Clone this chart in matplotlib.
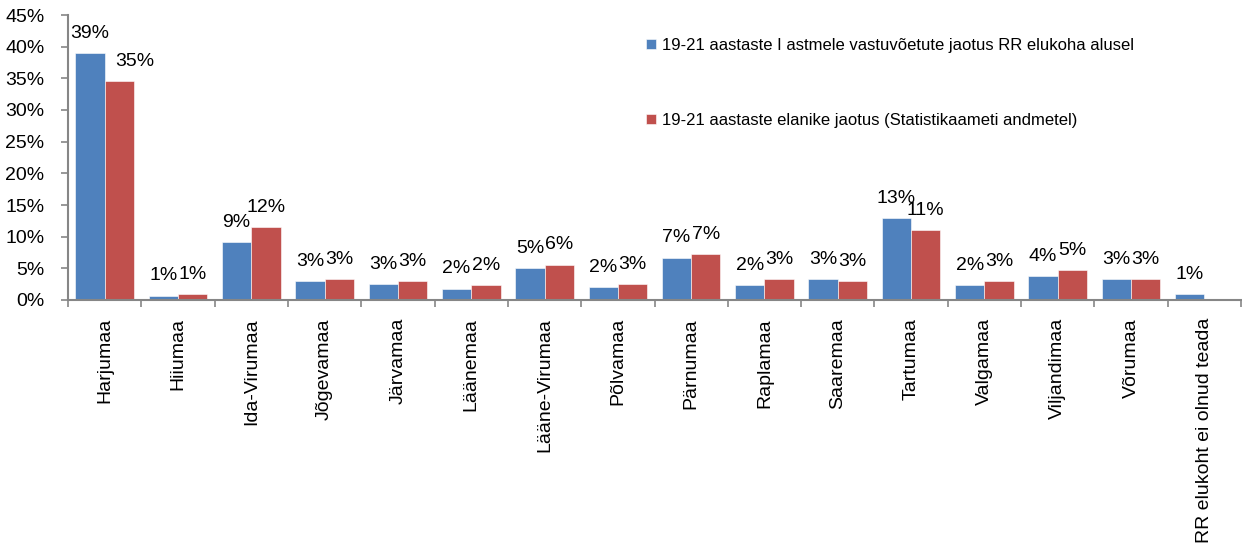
import numpy as np
import matplotlib
matplotlib.use("Agg")
import matplotlib.pyplot as plt
from matplotlib.ticker import FixedLocator, PercentFormatter

plt.rcParams['font.family'] = ['Liberation Sans', 'DejaVu Sans']

# Data (percent)
counties = ["Harjumaa", "Hiiumaa", "Ida-Virumaa", "Jõgevamaa", "Järvamaa",
            "Läänemaa", "Lääne-Virumaa", "Põlvamaa", "Pärnumaa", "Raplamaa",
            "Saaremaa", "Tartumaa", "Valgamaa", "Viljandimaa", "Võrumaa",
            "RR elukoht ei olnud teada"]
admitted = [39.0, 0.7, 9.2, 3.0, 2.55, 1.8, 5.0, 2.1, 6.7, 2.4,
            3.3, 12.9, 2.4, 3.8, 3.3, 1.0]
residents = [34.5, 1.0, 11.5, 3.3, 3.0, 2.4, 5.6, 2.55, 7.3, 3.3,
             3.0, 11.0, 3.0, 4.7, 3.3, np.nan]
series_names = ["19-21 aastaste I astmele vastuvõetute jaotus RR elukoha alusel",
                "19-21 aastaste elanike jaotus (Statistikaameti andmetel)"]
colors = ["#4F81BD", "#C0504D"]

FS = 14
AXIS_GREY = "#868686"

fig = plt.figure(figsize=(12.42, 5.44), dpi=100)
ax = fig.add_axes([68/1242, 1 - 300/544, 1173/1242, 285/544])

x = np.arange(len(counties))
w = 0.4
for i, (vals, col) in enumerate(zip([admitted, residents], colors)):
    pos = x - w/2 + i*w
    ax.bar(pos, vals, width=w, color=col, edgecolor="white", linewidth=0.4,
           label=series_names[i], zorder=2)
    for j, (px, v) in enumerate(zip(pos, vals)):
        if np.isnan(v):
            continue
        # the first red label was nudged right in the original so it clears 39%
        dx = 11 if (i == 1 and j == 0) else 0
        ax.annotate(f"{int(np.floor(v + 0.5))}%", (px, v), xytext=(dx, 8),
                    textcoords="offset points", ha="center", va="bottom",
                    fontsize=FS)

ax.set_xlim(-0.5, len(counties) - 0.5)
ax.set_ylim(0, 45)
ax.set_yticks(np.arange(0, 46, 5))
ax.yaxis.set_major_formatter(PercentFormatter(decimals=0))

# ticks at group boundaries, labels at centres
ax.xaxis.set_major_locator(FixedLocator(np.arange(-0.5, len(counties), 1.0)))
ax.xaxis.set_minor_locator(FixedLocator(x))
ax.xaxis.set_major_formatter(plt.NullFormatter())
ax.set_xticks(x, counties, minor=True, rotation=90, fontsize=FS)
ax.tick_params(axis="x", which="major", length=5, width=1.2, color=AXIS_GREY, direction="out")
ax.tick_params(axis="x", which="minor", length=0, pad=13)
ax.tick_params(axis="y", length=5, width=1.2, color=AXIS_GREY, labelsize=FS, pad=12)

for s in ["top", "right"]:
    ax.spines[s].set_visible(False)
for s in ["left", "bottom"]:
    ax.spines[s].set_color(AXIS_GREY)
    ax.spines[s].set_linewidth(1.5)

ax.legend(loc="upper left", bbox_to_anchor=(646/1242, 1 - 38/544),
          bbox_transform=fig.transFigure, frameon=False, fontsize=12,
          handlelength=0.6, handleheight=0.6, handletextpad=0.35,
          labelspacing=3.6, borderpad=0, borderaxespad=0)

fig.savefig("out.png", dpi=100)
